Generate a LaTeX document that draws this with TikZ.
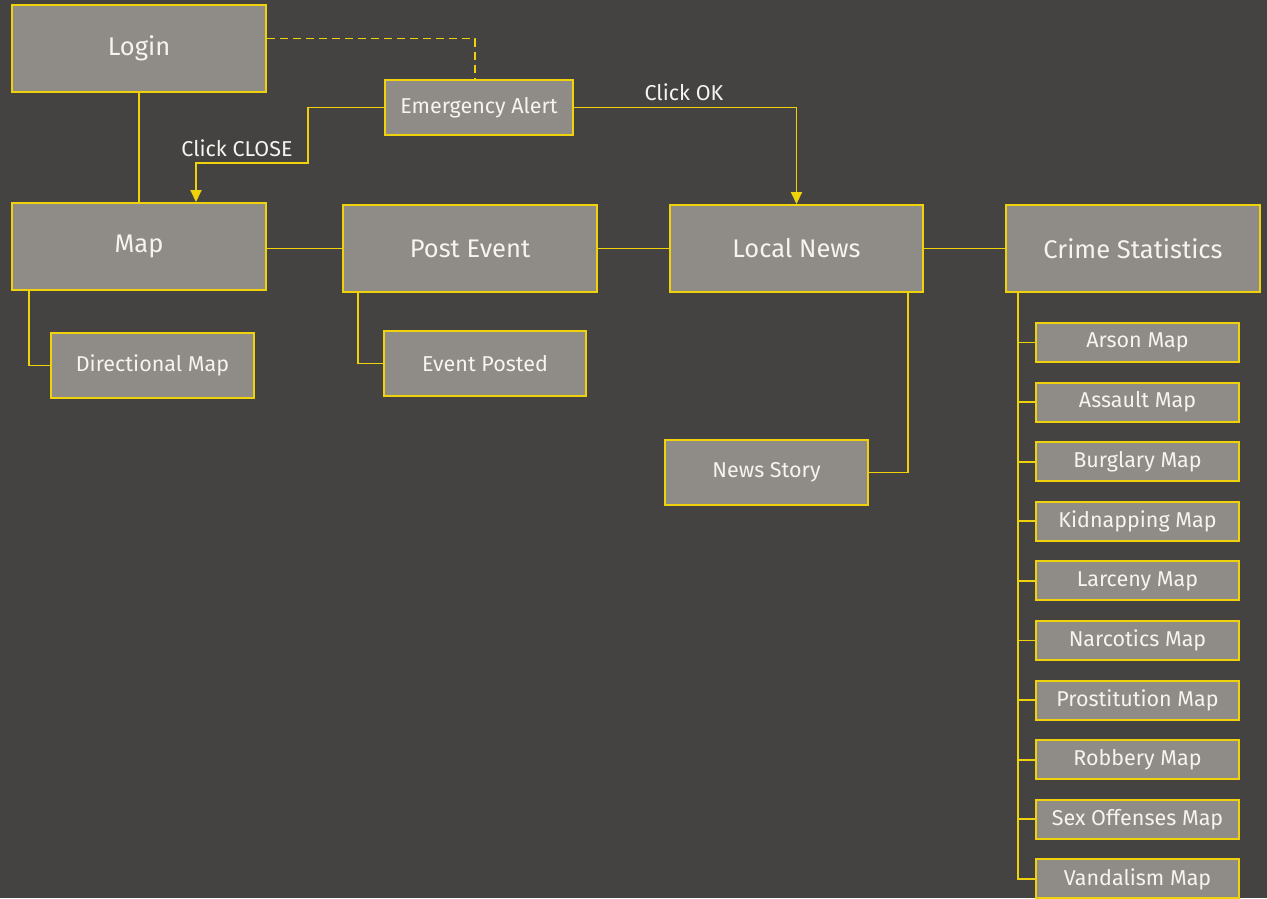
\documentclass[tikz,border=0pt]{standalone}
\usepackage{fontspec}
\setmainfont{Fira Sans}
\usetikzlibrary{arrows.meta}
\definecolor{bgdark}{HTML}{444341}
\definecolor{boxgrey}{HTML}{8F8B87}
\definecolor{lineyellow}{HTML}{F0D20A}
\definecolor{textwhite}{HTML}{F6F4F0}
\tikzstyle{page}=[draw=lineyellow,fill=boxgrey,line width=2pt,inner sep=0pt,text=textwhite]
\tikzstyle{bigpage}=[page,minimum width=254pt,minimum height=87pt,font=\fontsize{25.5}{30}\selectfont]
\tikzstyle{smallpage}=[page,minimum width=203pt,minimum height=65pt,font=\fontsize{21.5}{25}\selectfont]
\tikzstyle{mappage}=[page,minimum width=203pt,minimum height=39pt,font=\fontsize{21.5}{25}\selectfont]
\tikzstyle{link}=[draw=lineyellow,line width=1.8pt]
\tikzstyle{clicklabel}=[text=textwhite,font=\fontsize{21.5}{25}\selectfont,inner sep=0pt]

\begin{document}
\begin{tikzpicture}[x=1pt,y=-1pt,>={Triangle[length=12pt,width=11pt]}]
  \clip (0,0) rectangle (1267,898);
  \fill[bgdark] (0,0) rectangle (1267,898);
  % top row
  \node[bigpage] (login) at (139,48.5) {Login};
  \node[page,minimum width=188pt,minimum height=55pt,font=\fontsize{21.5}{25}\selectfont] (alert) at (479,107.5) {Emergency Alert};
  % main row
  \node[bigpage] (map) at (139,246.5) {Map};
  \node[bigpage] (post) at (470,248.5) {Post Event};
  \node[bigpage,minimum width=253pt] (news) at (796.5,248.5) {Local News};
  \node[bigpage] (crime) at (1133,248.5) {Crime Statistics};
  % children
  \node[smallpage] (dirmap) at (152.5,365.5) {Directional Map};
  \node[smallpage,minimum width=202pt] (posted) at (485,363.5) {Event Posted};
  \node[smallpage] (story) at (766.5,472.5) {News Story};
  \foreach \i/\name in {0/Arson, 1/Assault, 2/Burglary, 3/Kidnapping, 4/Larceny,
                        5/Narcotics, 6/Prostitution, 7/Robbery, 8/Sex Offenses, 9/Vandalism}
    \node[mappage] (m-\i) at (1137.5,342.5+59.6*\i) {\name\ Map};

  \draw[link] (login.south) -- (map.north);
  \draw[link,dashed,dash pattern=on 8pt off 5pt] ([yshift=10pt]login.east) -| ([xshift=-4pt]alert.north);
  \coordinate (closebend) at (308,163);
  \draw[link,->] (alert.west) -| (closebend) -| ([xshift=57pt]map.north);
  \draw[link,->] (alert.east) -| (news.north);
  \node[clicklabel] (closetext) at (237,148) {Click CLOSE};
  \node[clicklabel] (oktext) at (684,92) {Click OK};

  \draw[link] (post.west -| map.east) -- (post.west);
  \draw[link] (post.east) -- (news.west);
  \draw[link] (news.east) -- (crime.west);

  \draw[link] ([xshift=18pt]map.south west) |- (dirmap.west);
  \draw[link] ([xshift=16pt]post.south west) |- (posted.west);
  \draw[link] ([xshift=-16pt]news.south east) |- (story.east);
  \draw[link] ([xshift=13pt]crime.south west) |- (m-9.west);
  \foreach \i in {0,...,8}
    \draw[link] ([xshift=13pt]crime.south west |- m-\i.west) -- (m-\i.west);
\end{tikzpicture}
\end{document}
